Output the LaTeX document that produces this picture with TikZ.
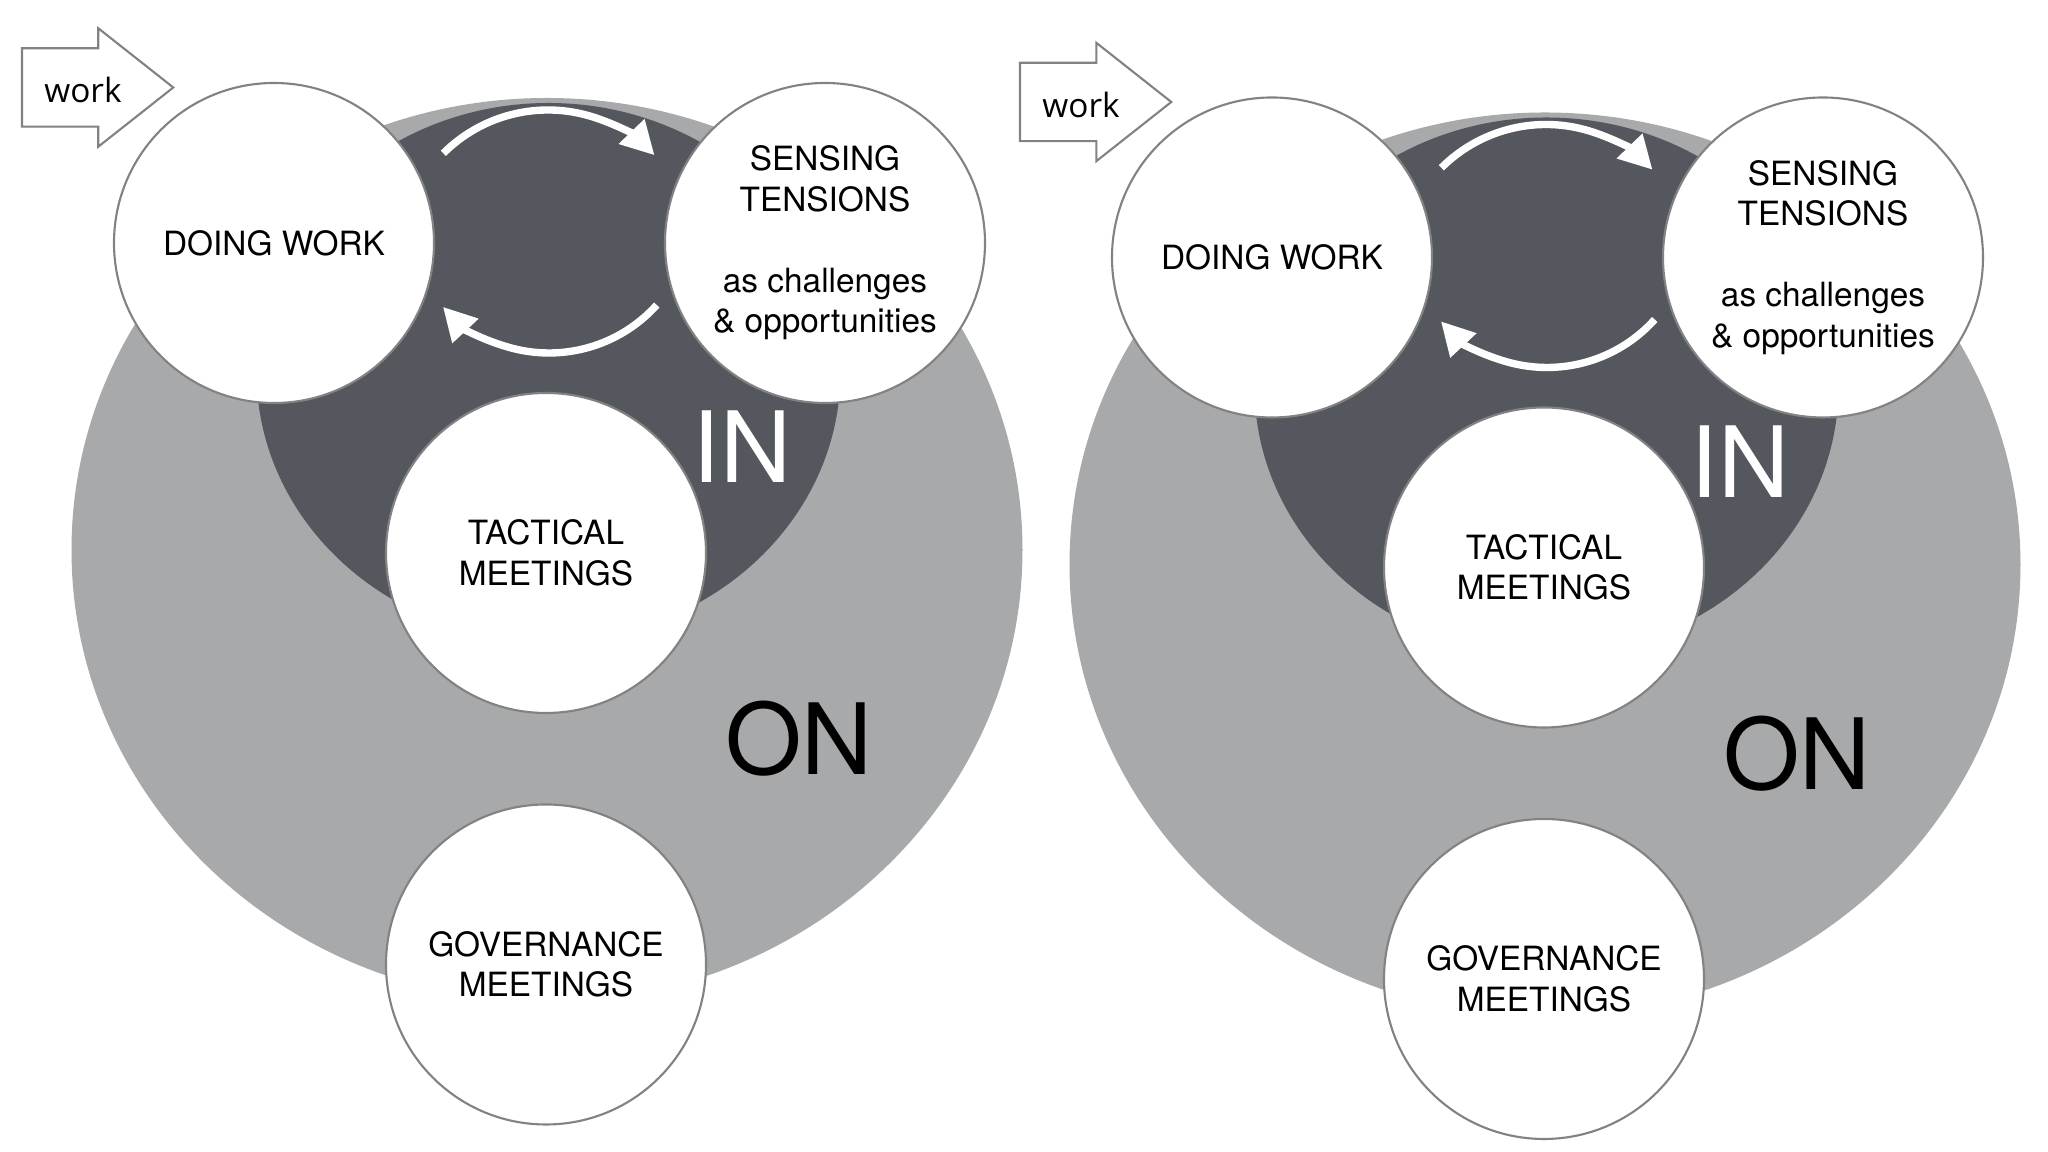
\documentclass[tikz,border=0pt]{standalone}
\usepackage{fontspec}
\setmainfont{TeX Gyre Heros}
\newfontfamily\workfont{Open Sans}
\usetikzlibrary{arrows.meta}

\definecolor{onring}{RGB}{167,169,170}
\definecolor{inring}{RGB}{84,87,93}
\definecolor{rimline}{RGB}{130,130,130}

\begin{document}
\begin{tikzpicture}[
    stage/.style={circle, draw=rimline, fill=white, line width=0.6pt,
        minimum size=3.2cm, inner sep=0pt, align=center,
        font=\fontsize{9.5}{11.5}\selectfont},
    turn/.style={draw=white, line width=2.1pt,
        -{Triangle[length=3.3mm,width=3.4mm]}},
    bigword/.style={inner sep=0pt, font=\fontsize{28}{30}\selectfont}
]

    \fill[white] (0,0) rectangle (20.48,11.52);
    \useasboundingbox (0,0) rectangle (20.48,11.52);

    % the same picture twice, the second one a little lower
    \foreach \dx/\dy/\s in {0/0/a, 9.98/-0.145/b} {
    \begin{scope}[shift={(\dx,\dy)}]

        \fill[onring] (5.47,6.02) ellipse [x radius=4.755, y radius=4.52];
        \fill[inring] (5.485,7.80) ellipse [x radius=2.92, y radius=2.69];

        \node[stage] (doing\s) at (2.74,9.09) {DOING WORK};
        \node[stage] (sensing\s) at (8.25,9.09)
            {SENSING\\TENSIONS\\[11.5pt]as challenges\\\& opportunities};
        \node[stage] (tactical\s) at (5.46,5.99) {TACTICAL\\MEETINGS};
        \node[stage] (governance\s) at (5.46,1.875) {GOVERNANCE\\MEETINGS};

        \node[bigword, text=white] (in\s) at (7.42,7.05) {IN};
        \node[bigword, text=black] (on\s) at (7.99,4.13) {ON};

        % loop between doing and sensing
        \coordinate (upper\s) at (5.48,8.94);
        \coordinate (lower\s) at (5.49,9.44);
        \draw[turn] ([shift={(135:1.48)}]upper\s) arc [start angle=135, end angle=44, radius=1.48];
        \draw[turn] ([shift={(-42:1.45)}]lower\s) arc [start angle=-42, end angle=-137, radius=1.45];

        % work comes in
        \draw[rimline, line width=0.6pt, fill=white]
            (0.22,11.037) -- (0.983,11.037) -- (0.983,11.237) -- (1.733,10.645)
            -- (0.983,10.053) -- (0.983,10.253) -- (0.22,10.253) -- cycle;
        \node[font=\workfont\fontsize{9.5}{11}\selectfont] (work\s) at (0.83,10.62) {work};

    \end{scope}
    }

\end{tikzpicture}
\end{document}
